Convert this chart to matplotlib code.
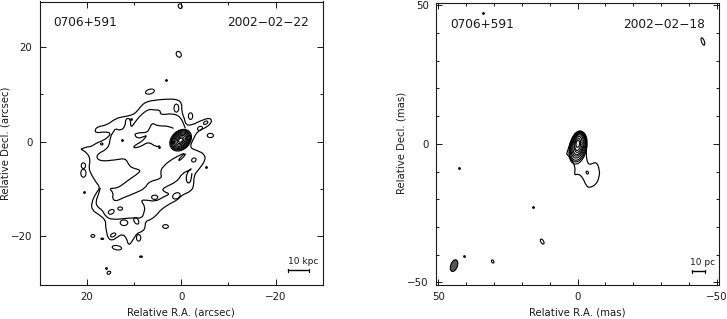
import matplotlib
matplotlib.use('Agg')
from matplotlib import pyplot as plt
from matplotlib.patches import Ellipse, PathPatch
from matplotlib.path import Path

W, H = 727, 319
INK = '#1a1a1a'

# --- left panel (arcsec), contours
outer_x = [21.2,20.1,19.1,18.1,17.1,15.7,14.8,16.2,18,18.3,17.6,15.7,13.9,12.1,10.4,9.3,8.3,7.2,5.4,3.2,0.8,-0.2,-0.1,-0.7,-1,-2.3,-4.1,-6.1,-6.6,-5.4,-3.5,-2.5,-1.8,-3.4,-4.9,-5.2,-3.7,-2.7,-2.7,-2,-0.2,0.8,2.3,4.4,5.1,6.5,7.6,7.6,8.3,9.3,10,11.1,11.6,12.5,13.6,14.6,15.5,15.8,16,16,17.4,18.9,19,18.1,17.1,18.1,19,19.6,19.2,19.8,21.2]
outer_y = [-1.6,-1.1,-1.1,-0.4,0,0.7,1.8,2.1,1.8,2.5,3.2,3.5,4.9,5.3,5.6,6.4,7.8,8.5,8.8,9,9,8.1,6.4,4.9,3.5,3.5,4.4,5.1,4.2,3,2.3,0.4,-1.3,-1.9,-2.6,-3.9,-6,-7.1,-9.5,-10.6,-11.3,-12.4,-13.1,-14.5,-15.5,-16.6,-16.9,-18.4,-19.1,-19.4,-20.5,-22.2,-20.3,-19.6,-20.3,-21,-20.5,-19.1,-17.9,-16.6,-15.5,-14.5,-13,-11,-9.8,-8.5,-7,-5.6,-3.9,-2.5,-1.6]
ridge_x = [1.6,2.6,4.4,5.4,6.1,6.7,7.2,8.8,10,9.2,7.8,7.2,8.3,9.7,10.2,8.6,6.9,5.4,4.5]
ridge_y = [2.8,3.3,3.3,3.5,4.0,2.8,1.9,1.9,1.6,0.6,1.1,1.3,0,-0.7,-1.4,-1.1,0,-1.1,-0.9]
inner_x = [-0.6,1.2,4,4.4,4,6.9,7.6,9.7,12.5,13.9,14.6,14.3,15.3,13.9,12.9,11.1,9,8.6,10.4,11.1,11.8,13.9,17.4,18.1,15.3,15,14.3,13.9,12.9,11.8,11.8,10.7,10.7,9.7,8.6,6.9,5.8,4.4,4.4,1.9,0.1,-0.9]
inner_y = [-2.5,-3.2,-5.3,-6.7,-7.8,-8.5,-9.9,-10.9,-12,-12.7,-12,-10.9,-9.9,-9.9,-9.5,-8.1,-6.7,-6,-5.6,-4.9,-3.5,-3.9,-4.2,-2.8,-1.4,1.1,2.1,2.8,2.3,3.2,4.9,4.9,2.8,4.2,5.6,6.9,6.7,6.7,5.6,6,5.3,2.8]
lower_x = [17.1,17.4,18.1,17.8,16.7,16,14.6,11.1,9.7,8.3,7.9,7.6,8.6,7.2,5.4,3.7,2.3,3.7,4,0.8,-0.2,-2,-2.3,-1.1,-1.1,-2,-2.3]
lower_y = [-9.8,-10.9,-12.7,-13.8,-14.5,-15.9,-16.6,-16.2,-16.2,-16.2,-15.2,-13.8,-12.4,-12.4,-12.7,-11.7,-11.1,-10.6,-9.9,-8.5,-6.7,-6,-5.6,-6.7,-8.7,-8.8,-6.7]
left_lines = [(outer_x, outer_y), (ridge_x, ridge_y), (inner_x, inner_y), (lower_x, lower_y)]

# x, y, width, height, angle
left_blobs = [
    (6.6,10.6,1.9,1.0,-15),(0.5,18.5,1.0,1.3,-30),(0.2,28.7,0.8,1.0,-30),(-2,5.4,0.9,1.4,0),
    (-6.2,1.3,1.3,0.9,0),(-5.2,4,1.0,0.6,-30),(-4,2.8,1.1,0.8,-30),(1,7.1,1.0,1.7,0),
    (-2.7,-3.9,1,0.8,-30),(-0.2,-3.3,1.9,0.4,-45),(1,-11.5,1.7,1.2,-30),(5.6,-11.8,1.3,0.9,0),
    (3.3,-18,1.2,0.8,0),(9.5,-16.8,0.9,1.5,-30),(12.1,-17.2,1.6,1.2,0),(14.8,-14.9,1.3,0.9,-30),
    (12.9,-14.2,1,0.7,0),(14.4,-19.8,1.2,0.7,-30),(18.7,-20,0.8,0.6,0),(16.7,-20.6,0.6,0.3,0),
    (13.6,-22.5,2,0.9,10),(9,-20.4,0.9,1.4,0),(8.5,-24.4,0.6,0.3,0),(15.3,-27.8,0.8,0.6,-30),
    (20.7,-5.1,0.9,1.2,0),(20.7,-6.7,1.1,1.7,0),(16.8,-0.5,0.5,0.4,0),
]
left_core = [
    (0.1,0.3,1.0,0.7,-45),(0.1,0.3,1.7,1.1,-45),(0.1,0.3,2.4,1.6,-45),(0.1,0.3,3.0,2.1,-45),
    (0.1,0.3,3.5,2.5,-45),(0.1,0.3,4.0,2.9,-45),(0.1,0.3,4.4,3.3,-45),(0.1,0.3,4.8,3.6,-45),(0.1,0.3,5.2,3.9,-45),
]
left_dots_x = [20.6,12.6,3.2,-5.2,10.7,15.9,4.7]
left_dots_y = [-10.6,0.3,13.1,-5.3,4.8,-26.7,-1.1]

# --- right panel (mas)
jet_x = [3.9,2.8,1.6,-0.2,-2,-2.9,-3.2,-3.2,-4.2,-6.8,-8,-7.8,-6.8,-4.4,-3.2,-1.8,-0.2,1.2,0.7,2.2,3.9]
jet_y = [-3.6,0,3,4.8,4.5,1.8,-1.8,-5.7,-7.8,-6.3,-9.6,-12,-14.6,-15.9,-15.3,-12,-10.8,-11.4,-8.4,-5.7,-3.6]
right_core = [
    (-0.1,0,1.2,2.6,8),(-0.1,-0.2,2,4.4,8),(-0.2,-0.2,2.8,5.8,8),(-0.2,-0.3,3.6,7.2,10),
    (-0.2,-0.4,4.2,8.2,12),(-0.2,-0.6,4.8,9.2,12),(-0.2,-0.9,5.3,10.2,12),(-0.2,-1.1,5.8,11,12),(-0.2,-1.4,6.2,12,12),
]
right_blobs = [
    (-45.1,37,1.0,2.8,-20),(12.7,-35.3,1.0,2.0,-30),(30.5,-42.5,0.8,1.2,-30),(-3.5,-10.4,0.8,1.1,-20),
]
right_dots_x = [40.7,42.7,15.9,34]
right_dots_y = [-40.7,-8.6,-22.7,47.4]
beam = (44.4,-44,2.4,4.4,20)


def smooth_path(xs, ys):
    # quadratic pieces through the midpoints, keeps the traced contours from looking angular
    verts = [(xs[0], ys[0])]
    codes = [Path.MOVETO]
    for i in range(1, len(xs) - 1):
        verts.append((xs[i], ys[i]))
        verts.append(((xs[i] + xs[i + 1]) / 2, (ys[i] + ys[i + 1]) / 2))
        codes += [Path.CURVE3, Path.CURVE3]
    verts.append((xs[-1], ys[-1]))
    codes.append(Path.LINETO)
    return Path(verts, codes)


def setup_axes(fig, box, xlim, ylim, major, minor, xlabel, ylabel, label_x):
    l, t, r, b = box
    ax = fig.add_axes([l / W, 1 - b / H, (r - l) / W, (b - t) / H])
    ax.set_xlim(*xlim)
    ax.set_ylim(*ylim)
    ax.set_xticks(major)
    ax.set_yticks(major)
    ax.set_xticks(minor, minor=True)
    ax.set_yticks(minor, minor=True)
    ax.tick_params(which='major', direction='in', top=True, right=True, length=4.5, width=0.7,
                   labelsize=7.4, pad=5, color=INK, labelcolor=INK)
    ax.tick_params(which='minor', direction='in', top=True, right=True, length=2.5, width=0.7, color=INK)
    for s in ax.spines.values():
        s.set_linewidth(0.8)
        s.set_color(INK)
    fig.text((l + r) / 2 / W, 1 - 312.5 / H, xlabel, ha='center', va='center', fontsize=7.3, color=INK)
    fig.text(label_x / W, 1 - 143 / H, ylabel, ha='center', va='center', rotation=90, fontsize=7.3, color=INK)
    return ax


def draw_blobs(ax, blobs):
    for x, y, w, h, a in blobs:
        ax.add_patch(Ellipse((x, y), w, h, angle=a, fill=False, ec='black', lw=0.8))


def scale_bar(ax, x0, x1, y, cap, label, lx, ly):
    ax.plot([x0, x1], [y, y], color='black', lw=1.0)
    for x in (x0, x1):
        ax.plot([x, x], [y - cap, y + cap], color='black', lw=0.8)
    ax.text(lx, ly, label, ha='center', va='center', fontsize=6.5, color=INK)


fig = plt.figure(figsize=(W / 100, H / 100), dpi=100)

ax1 = setup_axes(fig, (39.5, 1.5, 322.7, 285), (30, -30), (-30.4, 29.7), [20, 0, -20],
                 [10, -10], 'Relative R.A. (arcsec)', 'Relative Decl. (arcsec)', 6)
for xs, ys in left_lines:
    ax1.add_patch(PathPatch(smooth_path(xs, ys), fill=False, ec='black', lw=0.85))
draw_blobs(ax1, left_blobs)
draw_blobs(ax1, left_core)
ax1.plot(left_dots_x, left_dots_y, ls='none', marker='o', ms=1.0, color='black')
ax1.text(27, 25.2, '0706+591', ha='left', va='center', fontsize=8.7, color=INK)
ax1.text(-27, 25.2, '2002\u221202\u221222', ha='right', va='center', fontsize=8.7, color=INK)
scale_bar(ax1, -22.6, -27.2, -27.3, 0.3, '10 kpc', -25.8, -25.5)

ax2 = setup_axes(fig, (435.7, 2.7, 719.3, 285), (51, -51), (-51, 51), [50, 0, -50],
                 [40, 30, 20, 10, -10, -20, -30, -40], 'Relative R.A. (mas)', 'Relative Decl. (mas)', 402)
ax2.add_patch(PathPatch(smooth_path(jet_x, jet_y), fill=False, ec='black', lw=0.85))
draw_blobs(ax2, right_core)
draw_blobs(ax2, right_blobs)
ax2.plot(right_dots_x, right_dots_y, ls='none', marker='o', ms=1.0, color='black')
ax2.add_patch(Ellipse(beam[:2], beam[2], beam[3], angle=beam[4], fc='#555555', ec='black', lw=0.8))
ax2.text(45.7, 43.3, '0706+591', ha='left', va='center', fontsize=8.7, color=INK)
ax2.text(-45.7, 43.3, '2002\u221202\u221218', ha='right', va='center', fontsize=8.7, color=INK)
scale_bar(ax2, -41.1, -45.9, -46, 0.6, '10 pc', -45, -43)

fig.savefig('out.png', dpi=100)
